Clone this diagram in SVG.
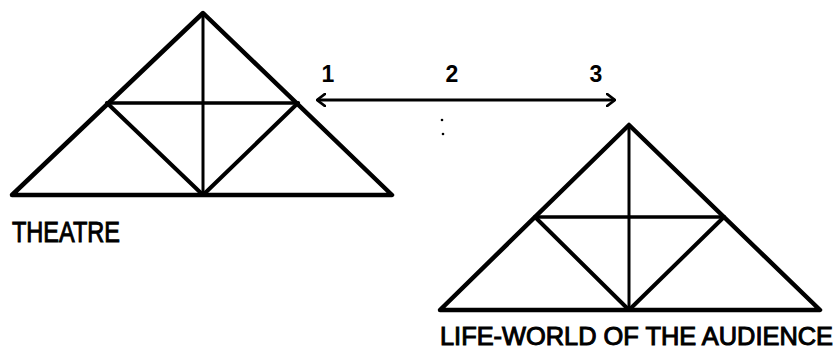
<svg xmlns="http://www.w3.org/2000/svg" width="836" height="353" viewBox="0 0 836 353">
<defs>
<style>
.outer{fill:none;stroke:#000;stroke-width:4.5;stroke-linejoin:round;stroke-linecap:round}
.diag{fill:none;stroke:#000;stroke-width:4;stroke-linecap:round}
.hor{fill:none;stroke:#000;stroke-width:3.5;stroke-linecap:round}
.vert{fill:none;stroke:#000;stroke-width:3}
.lbl{font-family:"Liberation Sans",Arial,sans-serif;fill:#000;stroke:#000;stroke-width:1}
.num{font-family:"Liberation Sans",Arial,sans-serif;font-weight:bold;font-size:23px;fill:#000}
.conn{fill:none;stroke:#000;stroke-width:3}
</style>
<marker id="ah" viewBox="0 0 10 14" refX="9" refY="7" markerWidth="10" markerHeight="14" markerUnits="userSpaceOnUse" orient="auto-start-reverse">
<path d="M1,1 L9,7 L1,13" fill="none" stroke="#000" stroke-width="2.8" stroke-linecap="round" stroke-linejoin="round"/>
</marker>
</defs>
<rect width="836" height="353" fill="#fff"/>
<g id="theatre">
<polygon class="outer" points="203,13 392,195 12,195"/>
<line class="hor" x1="107" y1="103" x2="298" y2="103"/>
<line class="diag" x1="107" y1="103" x2="203" y2="195"/>
<line class="diag" x1="298" y1="103" x2="203" y2="195"/>
<line class="vert" x1="203" y1="13" x2="203" y2="195"/>
<text class="lbl" x="12" y="242" font-size="30" textLength="108" lengthAdjust="spacingAndGlyphs">THEATRE</text>
</g>
<g id="lifeworld">
<polygon class="outer" points="629,125 820,310 440,310"/>
<line class="hor" x1="535" y1="217" x2="724" y2="217"/>
<line class="diag" x1="535" y1="217" x2="629" y2="310"/>
<line class="diag" x1="724" y1="217" x2="629" y2="310"/>
<line class="vert" x1="629" y1="125" x2="629" y2="310"/>
<text class="lbl" x="440" y="345" font-size="25" textLength="393" lengthAdjust="spacingAndGlyphs">LIFE-WORLD OF THE AUDIENCE</text>
</g>
<g id="connectors">
<line class="conn" x1="317" y1="100" x2="615" y2="100" marker-start="url(#ah)" marker-end="url(#ah)"/>
<text class="num" x="328" y="82" text-anchor="middle">1</text>
<text class="num" x="452" y="82" text-anchor="middle">2</text>
<text class="num" x="596" y="82" text-anchor="middle">3</text>
<circle cx="442" cy="120" r="1.3" fill="#000"/>
<circle cx="443" cy="134" r="1.3" fill="#000"/>
</g>
</svg>
